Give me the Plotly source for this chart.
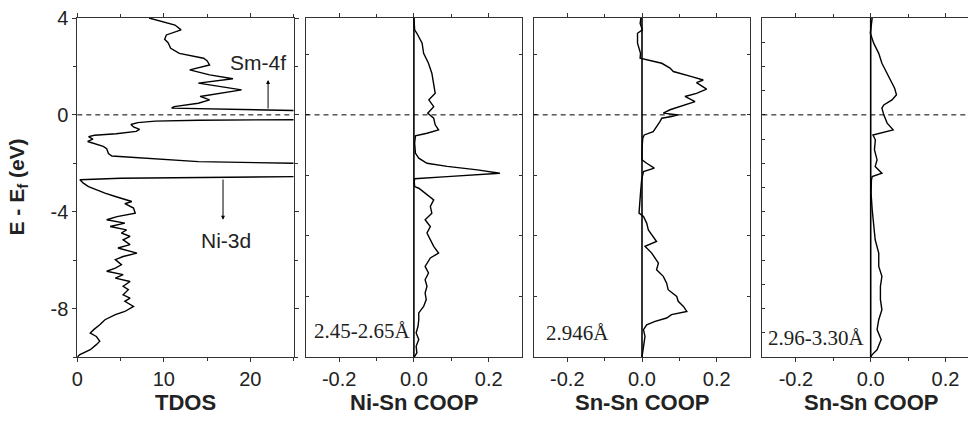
import plotly.graph_objects as go

# ---------------- data ----------------
tdos_e = [4.0, 3.71, 3.51, 3.30, 3.12, 2.98, 2.75, 2.54, 2.34, 2.24, 2.06, 1.86, 1.65, 1.49,
          1.31, 1.03, 0.76, 0.62, 0.48, 0.34, 0.28, 0.18, 0.14, 0.05, -0.10, -0.20, -0.22,
          -0.26, -0.32, -0.40, -0.50, -0.60, -0.68, -0.78, -0.84, -0.90, -1.00, -1.10, -1.20,
          -1.30, -1.40, -1.50, -1.60, -1.70, -1.76, -1.84, -1.93, -2.00, -2.10, -2.40, -2.55,
          -2.62, -2.68, -2.82, -2.96, -3.10, -3.23, -3.37, -3.51, -3.58, -3.67, -3.85, -4.06,
          -4.20, -4.33, -4.47, -4.61, -4.75, -4.88, -5.02, -5.16, -5.36, -5.50, -5.71, -5.85,
          -5.98, -6.19, -6.33, -6.46, -6.60, -6.74, -6.88, -7.08, -7.22, -7.43, -7.57, -7.70,
          -7.91, -8.12, -8.25, -8.46, -8.67, -8.87, -9.01, -9.15, -9.35, -9.49, -9.70, -9.90,
          -10.0]
tdos_v = [8.3, 11.3, 12.0, 10.3, 10.1, 10.5, 10.8, 11.8, 14.6, 15.0, 15.3, 13.0, 15.3, 18.0,
          14.0, 19.0, 14.2, 15.3, 14.0, 11.2, 10.9, 25.0, 40.0, 80.0, 80.0, 25.0, 14.0,
          9.0, 7.0, 6.2, 6.5, 7.2, 6.8, 4.5, 2.0, 1.3, 1.8, 1.2, 2.0,
          3.0, 3.4, 3.5, 3.6, 4.0, 6.5, 10.0, 14.0, 25.0, 80.0, 80.0, 25.0,
          5.0, 0.3, 0.7, 1.3, 2.2, 3.2, 4.4, 5.5, 6.3, 5.5, 6.5, 6.7,
          4.6, 3.4, 5.5, 3.8, 5.7, 5.1, 6.1, 5.3, 6.1, 4.7, 6.9, 5.3,
          4.4, 5.1, 4.4, 3.4, 5.3, 4.4, 6.1, 5.3, 5.9, 5.3, 6.1, 5.5,
          6.5, 5.5, 4.4, 3.2, 2.6, 1.9, 1.5, 2.2, 2.6, 2.2, 1.5, 0.3,
          0.0]

nisn_e = [4.0, 3.51, 3.37, 2.96, 2.54, 2.13, 1.72, 1.31, 0.89, 0.62, 0.34, 0.07, -0.14,
          -0.41, -0.62, -0.76, -0.87, -1.17, -1.58, -1.79, -2.00, -2.13, -2.27, -2.41, -2.48,
          -2.55, -2.64, -2.75, -2.96, -3.03, -3.23, -3.51, -3.78, -4.06, -4.33, -4.61, -4.88,
          -5.16, -5.43, -5.71, -5.91, -6.26, -6.53, -6.81, -7.08, -7.36, -7.63, -7.91, -8.18,
          -8.46, -8.73, -9.01, -9.28, -9.56, -9.83, -10.0]
nisn_v = [0.0, 0.002, 0.008, 0.022, 0.026, 0.039, 0.048, 0.053, 0.057, 0.040, 0.053, 0.037, 0.053,
          0.057, 0.066, 0.035, 0.004, 0.002, 0.004, 0.013, 0.035, 0.089, 0.170, 0.230, 0.170,
          0.089, 0.002, 0.001, 0.002, 0.013, 0.030, 0.053, 0.044, 0.048, 0.030, 0.044, 0.035,
          0.044, 0.053, 0.066, 0.044, 0.030, 0.039, 0.030, 0.035, 0.030, 0.033, 0.026, 0.013,
          0.013, 0.011, 0.006, 0.013, 0.006, 0.008, 0.001]

snsn1_e = [4.0, 3.78, 3.51, 3.37, 2.96, 2.54, 2.34, 2.27, 2.13, 1.93, 1.79, 1.58, 1.44, 1.33,
           1.06, 0.89, 0.76, 0.55, 0.34, 0.21, 0.07, 0.0, -0.07, -0.14, -0.28, -0.48, -0.69,
           -0.83, -0.96, -1.44, -1.86, -2.00, -2.20, -2.34, -2.68, -3.23, -3.78, -4.06, -4.20,
           -4.47, -4.75, -5.02, -5.23, -5.43, -5.71, -6.12, -6.40, -6.67, -6.95, -7.22, -7.50,
           -7.70, -7.91, -8.12, -8.25, -8.39, -8.53, -8.67, -8.87, -9.15, -9.42, -9.70, -10.0]
snsn1_v = [-0.003, -0.005, 0.001, -0.012, -0.012, -0.004, -0.005, 0.017, 0.053, 0.075, 0.084, 0.133, 0.164, 0.146,
           0.173, 0.146, 0.115, 0.142, 0.097, 0.075, 0.057, 0.097, 0.079, 0.053, 0.048, 0.039, 0.030,
           0.006, 0.002, 0.0, 0.0, 0.0125, 0.033, 0.004, -0.001, -0.004, -0.006, -0.008, 0.004,
           0.0125, 0.017, 0.030, 0.039, 0.008, 0.026, 0.044, 0.039, 0.057, 0.066, 0.070, 0.093,
           0.097, 0.111, 0.120, 0.079, 0.066, 0.035, 0.0125, 0.004, 0.008, 0.006, 0.004, 0.0]

snsn2_e = [4.0, 3.65, 3.37, 2.96, 2.54, 2.13, 1.72, 1.44, 1.10, 0.83, 0.62, 0.41, 0.28, 0.0,
           -0.34, -0.62, -0.73, -0.83, -1.03, -1.44, -1.86, -2.13, -2.41, -2.55, -2.68, -3.23,
           -3.92, -4.61, -5.16, -5.71, -6.26, -6.67, -7.08, -7.63, -8.05, -8.46, -8.87, -9.28,
           -9.70, -9.90, -10.0]
snsn2_v = [0.004, 0.002, -0.001, 0.008, 0.0215, 0.030, 0.044, 0.053, 0.064, 0.069, 0.057, 0.035, 0.030, 0.035,
           0.044, 0.060, 0.035, 0.006, 0.0125, 0.010, 0.017, 0.012, 0.030, 0.004, 0.002, 0.001,
           0.004, 0.008, 0.012, 0.0215, 0.0215, 0.030, 0.026, 0.026, 0.030, 0.0215, 0.017, 0.028,
           0.017, 0.004, 0.0]

coop_titles = ["Ni-Sn COOP", "Sn-Sn COOP", "Sn-Sn COOP"]
coop_labels = ["2.45-2.65Å", "2.946Å", "2.96-3.30Å"]
x_titles = ["TDOS"] + coop_titles
y_title = "E - E<sub>f</sub> (eV)"
tdos_ticks = [0, 10, 20]
coop_ticks = [-0.2, 0.0, 0.2]
coop_ticktext = ["-0.2", "0.0", "0.2"]
e_ticks = [4, 0, -4, -8]
e_ticktext = ["4", "0", "-4", "-8"]

# ---------------- layout geometry ----------------
# The figure is a little wider than the 968 px window so that the last panel's
# right border falls just outside the visible area, as in the reference crop.
W, H = 982, 425
panels_px = [(77.3, 293.5), (305.5, 522.3), (533.7, 750.3), (762.3, 979.1)]
top_px, bot_px = 18.0, 357.0
ydom = [1 - bot_px / H, 1 - top_px / H]
coop_range = [-0.29, 0.29]

SANS = "Liberation Sans, Arial, sans-serif"
SERIF = "Liberation Serif, Times New Roman, serif"
TICKF = dict(family=SANS, size=20, color="#222")
LINEC = "#333"

fig = go.Figure()
series = [(tdos_v, tdos_e), (nisn_v, nisn_e), (snsn1_v, snsn1_e), (snsn2_v, snsn2_e)]
for i, (xv, yv) in enumerate(series):
    sfx = "" if i == 0 else str(i + 1)
    fig.add_trace(go.Scatter(x=xv, y=yv, mode="lines", xaxis="x" + sfx, yaxis="y" + sfx,
                             line=dict(color="black", width=1.4), showlegend=False,
                             hoverinfo="skip"))

layout = dict(width=W, height=H, margin=dict(l=0, r=0, t=0, b=0, autoexpand=False),
              plot_bgcolor="white", paper_bgcolor="white", showlegend=False)

y_minor = [[2, -2, -6, -10],
           [2.5, 0, -2.5, -5, -7.5],
           [2.5, 0, -2.5, -5, -7.5],
           [3, 2, 1, 0, -1, -2, -3, -4, -5, -6, -7, -8, -9]]

for i in range(4):
    sfx = "" if i == 0 else str(i + 1)
    x0, x1 = panels_px[i]
    dom = [x0 / W, x1 / W]
    if i == 0:
        xa = dict(domain=dom, range=[0, 25], tickmode="array", tickvals=tdos_ticks,
                  ticktext=[str(t) for t in tdos_ticks],
                  minor=dict(tickmode="array", tickvals=[5, 15, 25], ticks="outside",
                             ticklen=3, tickcolor=LINEC))
        ya = dict(domain=ydom, range=[-10, 4], tickmode="array", tickvals=e_ticks,
                  ticktext=e_ticktext, ticks="outside", ticklen=4,
                  minor=dict(tickmode="array", tickvals=y_minor[0], ticks="outside",
                             ticklen=3, tickcolor=LINEC))
    else:
        xa = dict(domain=dom, range=coop_range, tickmode="array", tickvals=coop_ticks,
                  ticktext=coop_ticktext,
                  minor=dict(tickmode="array", tickvals=[-0.1, 0.1], ticks="outside",
                             ticklen=3, tickcolor=LINEC))
        ya = dict(domain=ydom, range=[-10, 4], tickmode="array", tickvals=y_minor[i],
                  showticklabels=False, ticks="inside", ticklen=3)
    xa.update(anchor="y" + sfx, showline=True, linecolor=LINEC, linewidth=1,
              mirror="allticks", ticks="outside", ticklen=4, tickcolor=LINEC,
              showgrid=False, zeroline=False, tickfont=TICKF, fixedrange=True,
              automargin=False)
    ya.update(anchor="x" + sfx, showline=True, linecolor=LINEC, linewidth=1,
              mirror="allticks", tickcolor=LINEC, showgrid=False, zeroline=False,
              tickfont=TICKF, fixedrange=True, automargin=False)
    layout["xaxis" + sfx] = xa
    layout["yaxis" + sfx] = ya

fig.update_layout(**layout)

# Fermi level dashed line in every panel, zero lines in COOP panels
for i in range(4):
    sfx = "" if i == 0 else str(i + 1)
    fig.add_shape(type="line", xref="x" + sfx + " domain", yref="y" + sfx,
                  x0=0, x1=1, y0=0, y1=0,
                  line=dict(color="black", width=1, dash="5px,4px"))
    if i > 0:
        fig.add_shape(type="line", xref="x" + sfx, yref="y" + sfx + " domain",
                      x0=0, x1=0, y0=0, y1=1, line=dict(color="black", width=1.6))

ann = []
# arrows and labels in TDOS panel
ann.append(dict(x=22.06, y=1.44, ax=22.06, ay=0.2, xref="x", yref="y", axref="x", ayref="y",
                showarrow=True, arrowhead=2, arrowsize=0.8, arrowwidth=1, arrowcolor="black",
                text=""))
ann.append(dict(x=16.85, y=-4.33, ax=16.85, ay=-2.61, xref="x", yref="y", axref="x", ayref="y",
                showarrow=True, arrowhead=2, arrowsize=0.8, arrowwidth=1, arrowcolor="black",
                text=""))
ann.append(dict(x=20.9, y=2.18, xref="x", yref="y", text="Sm-4f", showarrow=False,
                font=dict(family=SANS, size=21, color="#222")))
ann.append(dict(x=17.2, y=-5.17, xref="x", yref="y", text="Ni-3d", showarrow=False,
                font=dict(family=SANS, size=21, color="#222")))
# bond length labels
lab_pos = [(-0.2715, -8.93), (-0.263, -9.02), (-0.280, -9.22)]
for i, (lbl, (lx, ly)) in enumerate(zip(coop_labels, lab_pos)):
    sfx = str(i + 2)
    ann.append(dict(x=lx, y=ly, xref="x" + sfx, yref="y" + sfx, text=lbl, showarrow=False,
                    xanchor="left", yanchor="middle",
                    font=dict(family=SERIF, size=21, color="#222")))
# axis titles
for i, t in enumerate(x_titles):
    x0, x1 = panels_px[i]
    ann.append(dict(x=(x0 + x1) / 2 / W, y=1 - 402 / H, xref="paper", yref="paper",
                    text="<b>" + t + "</b>", showarrow=False, xanchor="center",
                    yanchor="middle", font=dict(family=SANS, size=22, color="#222")))
ann.append(dict(x=17 / W, y=1 - 187.5 / H, xref="paper", yref="paper",
                text="<b>" + y_title + "</b>", textangle=-90, showarrow=False,
                xanchor="center", yanchor="middle",
                font=dict(family=SANS, size=21, color="#222")))
fig.update_layout(annotations=ann)

fig.write_html("out.html", config={"displayModeBar": False},
               post_script="document.body.style.margin='0px';"
                           "document.body.style.overflow='hidden';"
                           "document.documentElement.style.overflow='hidden';")
